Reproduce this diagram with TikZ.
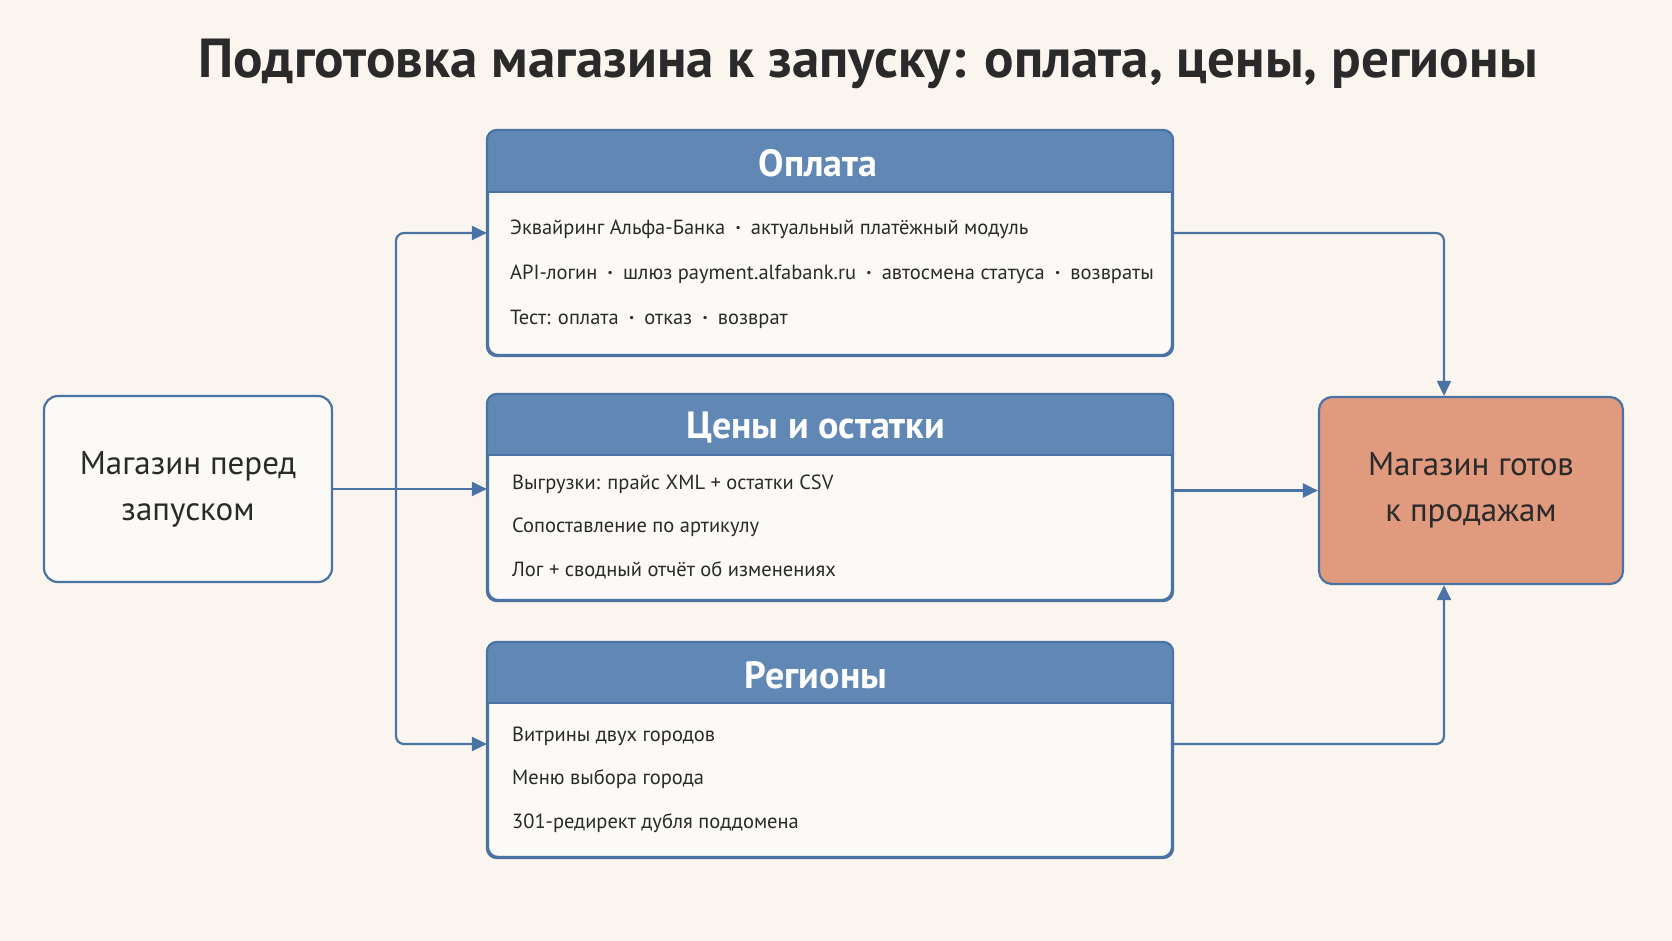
\documentclass[tikz,border=0pt]{standalone}
\usepackage{fontspec}
\setmainfont{PT Sans}
\usetikzlibrary{arrows.meta,calc}
\definecolor{bg}{HTML}{FAF6EF}
\definecolor{hdr}{HTML}{6188B4}
\definecolor{edge}{HTML}{4B72A4}
\definecolor{panelfill}{HTML}{FCFAF6}
\definecolor{salmon}{HTML}{E09A7E}
\definecolor{ink}{HTML}{2A2A2A}
\newcommand\dotsep{\enspace\textbf{·}\enspace}
\begin{document}
\begin{tikzpicture}[x=1pt,y=-1pt,
  panel/.style={draw=edge, line width=2.2pt, fill=panelfill, rounded corners=10pt, inner sep=0pt},
  endbox/.style={draw=edge, line width=2.2pt, rounded corners=13pt, align=center, text=ink,
    font=\fontsize{33}{46}\selectfont, inner sep=0pt},
  hdrtext/.style={text=white, font=\bfseries\fontsize{38}{44}\selectfont, inner sep=0pt},
  body/.style={text=ink, font=\fontsize{20.5}{25}\selectfont, anchor=west, inner sep=0pt},
  conn/.style={draw=edge, line width=2.2pt, rounded corners=8pt, -{Triangle[length=15pt,width=14pt]}},
  bandline/.style={draw=edge, line width=1.5pt}
]
\fill[bg] (0,0) rectangle (1672,941);
\useasboundingbox (0,0) rectangle (1672,941);

\node[text=ink, font=\bfseries\fontsize{55}{64}\selectfont, inner sep=0pt] (title) at (868,64)
  {Подготовка магазина к запуску: оплата, цены, регионы};

% panels
\node[panel, minimum width=684pt, minimum height=224pt] (pay) at (830,243) {};
\node[panel, minimum width=684pt, minimum height=205pt] (price) at (830,497.5) {};
\node[panel, minimum width=684pt, minimum height=214pt] (reg) at (830,750) {};

\begin{scope}
  \clip[rounded corners=10pt] (pay.south west) rectangle (pay.north east);
  \fill[hdr] (pay.north west) rectangle (pay.east |- 0,192);
\end{scope}
\begin{scope}
  \clip[rounded corners=10pt] (price.south west) rectangle (price.north east);
  \fill[hdr] (price.north west) rectangle (price.east |- 0,455);
\end{scope}
\begin{scope}
  \clip[rounded corners=10pt] (reg.south west) rectangle (reg.north east);
  \fill[hdr] (reg.north west) rectangle (reg.east |- 0,703);
\end{scope}
\draw[bandline] (pay.west |- 0,192) -- (pay.east |- 0,192);
\draw[bandline] (price.west |- 0,455) -- (price.east |- 0,455);
\draw[bandline] (reg.west |- 0,703) -- (reg.east |- 0,703);
\draw[edge, line width=2.2pt, rounded corners=10pt] (pay.south west) rectangle (pay.north east);
\draw[edge, line width=2.2pt, rounded corners=10pt] (price.south west) rectangle (price.north east);
\draw[edge, line width=2.2pt, rounded corners=10pt] (reg.south west) rectangle (reg.north east);

\node[hdrtext] (payH) at (818,163) {Оплата};
\node[hdrtext] (priceH) at (816,428) {Цены и остатки};
\node[hdrtext] (regH) at (816,675) {Регионы};

\node[body] (pay1) at (510,229) {Эквайринг Альфа-Банка\dotsep актуальный платёжный модуль};
\node[body] (pay2) at (510,274) {API-логин\dotsep шлюз payment.alfabank.ru\dotsep автосмена статуса\dotsep возвраты};
\node[body] (pay3) at (510,319) {Тест: оплата\dotsep отказ\dotsep возврат};

\node[body] (price1) at (512,484) {Выгрузки: прайс XML + остатки CSV};
\node[body] (price2) at (512,527) {Сопоставление по артикулу};
\node[body] (price3) at (512,570) {Лог + сводный отчёт об изменениях};

\node[body] (reg1) at (512,736) {Витрины двух городов};
\node[body] (reg2) at (512,779) {Меню выбора города};
\node[body] (reg3) at (512,823) {301-редирект дубля поддомена};

% end boxes
\node[endbox, fill=panelfill, rounded corners=14pt, minimum width=288pt, minimum height=186pt] (start) at (188,489)
  {Магазин перед\\запуском};
\node[endbox, fill=salmon, minimum width=304pt, minimum height=187pt] (done) at (1471,490.5)
  {Магазин готов\\к продажам};

% connectors
\coordinate (jx) at (396,489);
\draw[conn] (start.east) -- (start.east -| price.west);
\draw[conn] (jx) |- ([yshift=10pt]pay.west);
\draw[conn] (jx) |- ([yshift=6pt]reg.west);
\draw[conn] ([yshift=10pt]pay.east) -| ([xshift=-27pt]done.north);
\draw[conn] (price.east |- done.west) -- (done.west);
\draw[conn] ([yshift=6pt]reg.east) -| ([xshift=-27pt]done.south);
\end{tikzpicture}
\end{document}
